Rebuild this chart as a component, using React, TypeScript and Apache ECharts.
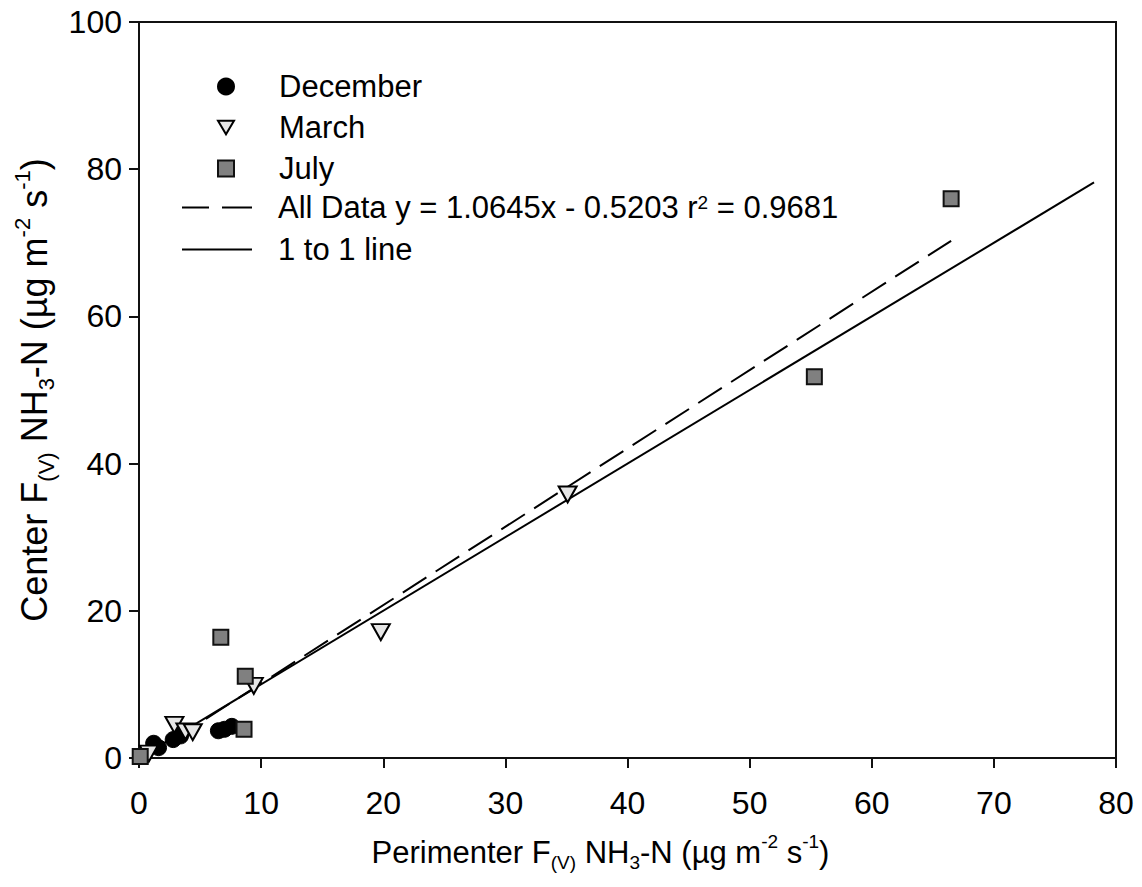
import React, { useEffect, useRef } from "react";
import * as echarts from "echarts";

const decemberX = [1.2, 1.6, 2.8, 3.4, 6.5, 7.0, 7.6];
const decemberY = [2.0, 1.4, 2.5, 3.0, 3.7, 3.9, 4.3];
const marchX = [0.8, 2.9, 3.8, 4.4, 9.4, 19.8, 35.1];
const marchY = [0.6, 4.5, 3.6, 3.5, 9.8, 17.1, 35.8];
const julyX = [0.1, 6.7, 8.7, 8.6, 55.3, 66.5];
const julyY = [0.2, 16.4, 11.1, 3.9, 51.8, 76.0];
const fitX = [0.1, 66.5];
const fitY = [-0.41, 70.27];
const oneX = [0, 78.2];
const oneY = [0, 78.2];
const xTicks = [0, 80, 10];
const yTicks = [0, 100, 20];

const FIT_NAME = "All Data y = 1.0645x - 0.5203 r2 = 0.9681";
const ONE_NAME = "1 to 1 line";
const FONT = "'Liberation Sans', Arial, sans-serif";

const TRI = "path://M0,0L20,0L10,17Z";
const SQUARE = "path://M0,0L10,0L10,10L0,10Z";
const DASH_ICON = "path://M0,0L27,0L27,2L0,2Z M40,0L70,0L70,2L40,2Z";
const SOLID_ICON = "path://M0,0L70,0L70,2L0,2Z";

const zip = (xs: number[], ys: number[]) => xs.map((x, i) => [x, ys[i]]);

const richStyles = (size: number, lh: number) => ({
  n: { fontSize: size, lineHeight: lh, verticalAlign: "middle", fontFamily: FONT, color: "#000" },
  sub: { fontSize: Math.round(size * 0.62), lineHeight: Math.round(size * 0.65), verticalAlign: "bottom", fontFamily: FONT, color: "#000" },
  sup: { fontSize: Math.round(size * 0.62), lineHeight: Math.round(size * 0.65), verticalAlign: "top", fontFamily: FONT, color: "#000" },
});

const legendFormatter = (name: string) =>
  name === FIT_NAME ? "{n|All Data y = 1.0645x - 0.5203 r}{sup|2}{n| = 0.9681}" : "{n|" + name + "}";

export default function App() {
  const ref = useRef<HTMLDivElement>(null);
  useEffect(() => {
    if (!ref.current) return;
    const chart = echarts.init(ref.current, undefined, { renderer: "svg" });
    chart.setOption({
      animation: false,
      backgroundColor: "#fff",
      textStyle: { fontFamily: FONT },
      grid: { left: 139, right: 26, top: 22, bottom: 129, show: true, borderColor: "#111", borderWidth: 2, backgroundColor: "transparent" },
      legend: [
        {
          orient: "vertical",
          left: 212,
          top: 66,
          itemWidth: 16,
          itemHeight: 16,
          itemGap: 10,
          symbolKeepAspect: true,
          data: [
            { name: "December", icon: "circle" },
            { name: "March", icon: TRI },
            { name: "July", icon: SQUARE },
          ],
          formatter: legendFormatter,
          textStyle: { fontSize: 31, fontFamily: FONT, color: "#000", padding: [0, 0, 0, 40], rich: richStyles(31, 30) },
        },
        {
          orient: "vertical",
          left: 177,
          top: 187,
          itemWidth: 70,
          itemHeight: 16,
          itemGap: 11,
          symbolKeepAspect: true,
          data: [
            { name: FIT_NAME, icon: DASH_ICON },
            { name: ONE_NAME, icon: SOLID_ICON },
          ],
          formatter: legendFormatter,
          textStyle: { fontSize: 31, fontFamily: FONT, color: "#000", padding: [0, 0, 0, 21], rich: richStyles(31, 30) },
        },
      ],
      xAxis: {
        type: "value",
        min: xTicks[0],
        max: xTicks[1],
        interval: xTicks[2],
        name: "{n|Perimenter F}{sub|(V)}{n| NH}{sub|3}{n|-N (µg m}{sup|-2}{n| s}{sup|-1}{n|)}",
        nameLocation: "middle",
        nameGap: 74,
        nameTextStyle: { rich: richStyles(31, 40), padding: [0, 54, 0, 0] },
        axisLine: { lineStyle: { color: "#111", width: 2 } },
        axisTick: { inside: false, length: 10, lineStyle: { color: "#111", width: 2 } },
        axisLabel: { fontSize: 32, color: "#000", margin: 29, fontFamily: FONT },
        splitLine: { show: false },
      },
      yAxis: {
        type: "value",
        min: yTicks[0],
        max: yTicks[1],
        interval: yTicks[2],
        name: "{n|Center F}{sub|(V)}{n| NH}{sub|3}{n|-N (µg m}{sup|-2}{n| s}{sup|-1}{n|)}",
        nameLocation: "middle",
        nameRotate: 90,
        nameGap: 82,
        nameTextStyle: { rich: richStyles(36, 46) },
        axisLine: { lineStyle: { color: "#111", width: 2 } },
        axisTick: { inside: false, length: 10, lineStyle: { color: "#111", width: 2 } },
        axisLabel: { fontSize: 32, color: "#000", margin: 17, fontFamily: FONT },
        splitLine: { show: false },
      },
      series: [
        {
          name: ONE_NAME,
          type: "line",
          data: zip(oneX, oneY),
          symbol: "none",
          lineStyle: { color: "#000", width: 2, type: "solid" },
          itemStyle: { color: "#000" },
          z: 2,
        },
        {
          name: FIT_NAME,
          type: "line",
          data: zip(fitX, fitY),
          symbol: "none",
          lineStyle: { color: "#000", width: 2, type: [28, 11] },
          itemStyle: { color: "#000" },
          z: 2,
        },
        {
          name: "December",
          type: "scatter",
          data: zip(decemberX, decemberY),
          symbol: "circle",
          symbolSize: 16,
          itemStyle: { color: "#000", borderColor: "#000", borderWidth: 1, opacity: 1 },
          z: 3,
        },
        {
          name: "March",
          type: "scatter",
          data: zip(marchX, marchY),
          symbol: TRI,
          symbolSize: [18, 16],
          itemStyle: { color: "#e6e6e6", borderColor: "#000", borderWidth: 2, opacity: 1 },
          z: 4,
        },
        {
          name: "July",
          type: "scatter",
          data: zip(julyX, julyY),
          symbol: "rect",
          symbolSize: 15,
          itemStyle: { color: "#808080", borderColor: "#111", borderWidth: 2, opacity: 1 },
          z: 5,
        },
      ],
    });
    return () => chart.dispose();
  }, []);
  return <div ref={ref} style={{ width: 1142, height: 887, margin: -8 }} />;
}
